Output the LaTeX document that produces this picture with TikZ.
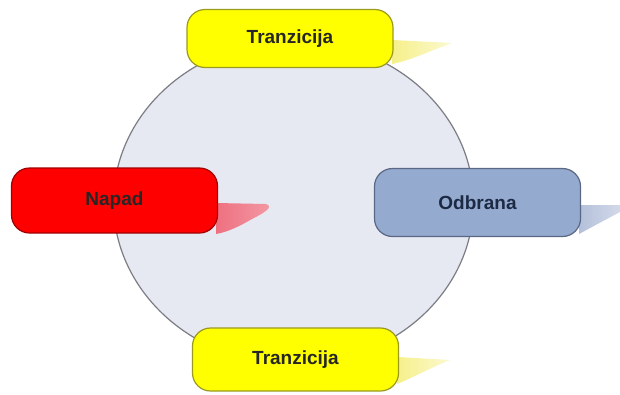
\documentclass[tikz,border=0pt]{standalone}
\usepackage{fontspec}
\setmainfont{Liberation Sans}
\definecolor{ringfill}{HTML}{E6E8F2}
\definecolor{ringline}{HTML}{7C7C84}
\definecolor{tranyellow}{HTML}{FFFF00}
\definecolor{tranline}{HTML}{9A9A1E}
\definecolor{transhade}{HTML}{F6F08A}
\definecolor{napadred}{HTML}{FF0000}
\definecolor{napadline}{HTML}{A00000}
\definecolor{napadshade}{HTML}{EE7080}
\definecolor{odbblue}{HTML}{95AACF}
\definecolor{odbline}{HTML}{5A6886}
\definecolor{odbshade}{HTML}{B4C0DA}
\definecolor{odbtext}{HTML}{1C2A44}
\tikzset{
    phase/.style={draw, line width=1.2pt, rounded corners=18pt, minimum width=206pt,
        inner sep=0pt, font=\fontsize{19}{23}\selectfont\bfseries},
    tranbox/.style={phase, fill=tranyellow, draw=tranline, text=black!85},
}
\begin{document}
\begin{tikzpicture}[x=1pt, y=-1pt]
    \useasboundingbox (0, 0) rectangle (620, 394);
    \fill[white] (0, 0) rectangle (620, 394);
    % ring
    \draw[ringline, line width=1.2pt, fill=ringfill] (293.5, 202.5) ellipse [x radius=180pt, y radius=162pt];
    % shadows
    \shade[left color=transhade, right color=transhade!40] (392, 40) -- (452, 43) .. controls (432, 50) and (412, 60) .. (392, 64) -- cycle;
    \shade[left color=napadshade, right color=napadshade!70] (216, 203) -- (266, 204) .. controls (275, 207) and (262, 214) .. (252, 219) .. controls (240, 226) and (228, 232) .. (216, 234) -- cycle;
    \shade[left color=odbshade, right color=odbshade!60] (579, 205) -- (620, 205) -- (620, 212) .. controls (605, 220) and (590, 228) .. (579, 234) -- cycle;
    \shade[left color=transhade, right color=transhade!40] (397, 357) -- (450, 360) .. controls (430, 368) and (412, 378) .. (397, 384) -- cycle;
    % phases
    \node[tranbox, minimum height=58pt] (trantop) at (290, 38.5) {Tranzicija};
    \node[phase, minimum height=65pt, fill=napadred, draw=napadline, text=black!85] (napad) at (114.5, 200.5) {Napad};
    \node[phase, minimum height=68pt, fill=odbblue, draw=odbline, text=odbtext] (odbrana) at (477.5, 202.5) {Odbrana};
    \node[tranbox, minimum height=63pt] (tranbottom) at (295.5, 359.5) {Tranzicija};
\end{tikzpicture}
\end{document}
